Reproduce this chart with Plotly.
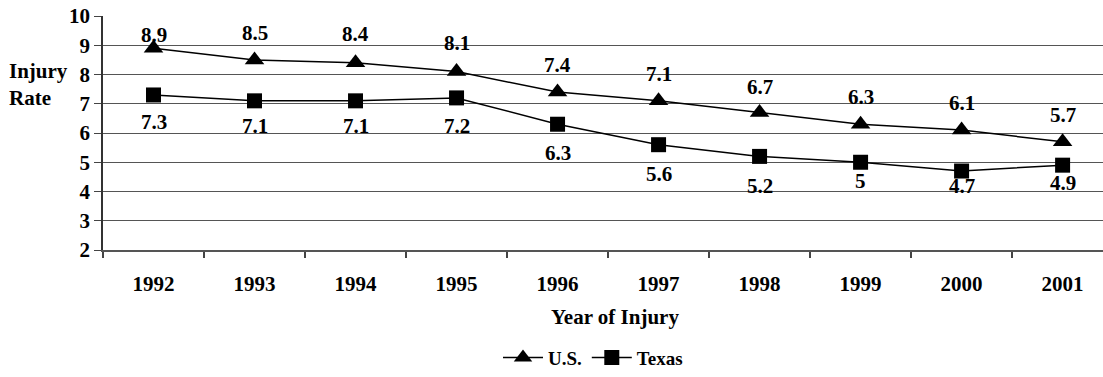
import plotly.graph_objects as go

# Injury rates by year of injury
years = ["1992", "1993", "1994", "1995", "1996", "1997", "1998", "1999", "2000", "2001"]
us_rate = [8.9, 8.5, 8.4, 8.1, 7.4, 7.1, 6.7, 6.3, 6.1, 5.7]
texas_rate = [7.3, 7.1, 7.1, 7.2, 6.3, 5.6, 5.2, 5.0, 4.7, 4.9]

# vertical pixel offsets of the value labels (negative = above the marker)
us_label_shift = [-13, -27, -29, -29, -27, -27, -26, -27, -27, -27]
texas_label_shift = [27, 25, 25, 28, 29, 29, 30, 19, 15, 18]

FONT = "Times New Roman, Liberation Serif, serif"

fig = go.Figure()
fig.add_trace(go.Scatter(
    x=years, y=us_rate, name="U.S.", mode="lines+markers",
    line=dict(color="black", width=1.5),
    marker=dict(symbol="triangle-up", size=17, color="black"),
))
fig.add_trace(go.Scatter(
    x=years, y=texas_rate, name="Texas", mode="lines+markers",
    line=dict(color="black", width=1.5),
    marker=dict(symbol="square", size=15, color="black"),
))

annotations = []
for series, shifts in ((us_rate, us_label_shift), (texas_rate, texas_label_shift)):
    for i, (v, s) in enumerate(zip(series, shifts)):
        # category index keeps the year strings from being read as numbers
        annotations.append(dict(
            x=i, y=v, xref="x", yref="y", text=f"<b>{v:g}</b>", showarrow=False,
            yshift=-s, font=dict(family=FONT, size=21, color="black"),
        ))

# axis titles
annotations.append(dict(
    x=0.512, y=-0.287, xref="paper", yref="paper", text="<b>Year of Injury</b>",
    showarrow=False, xanchor="center", yanchor="middle",
    font=dict(family=FONT, size=21, color="black"),
))
annotations.append(dict(
    x=-0.096, y=0.708, xref="paper", yref="paper", text="<b>Injury<br>Rate</b>",
    showarrow=False, xanchor="left", yanchor="middle", align="left",
    font=dict(family=FONT, size=21, color="black"),
))

fig.update_layout(
    width=1103, height=377,
    margin=dict(l=103, r=0, t=16, b=124),
    paper_bgcolor="white", plot_bgcolor="white",
    showlegend=True,
    legend=dict(
        orientation="h", x=0.49, y=-0.46, xanchor="center", yanchor="middle",
        font=dict(family=FONT, size=19, color="black", weight="bold"),
        itemwidth=40, tracegroupgap=0,
    ),
    annotations=annotations,
    xaxis=dict(
        type="category", range=[-0.5, 9.4], tickson="boundaries",
        ticks="outside", ticklen=6, tickcolor="#444", tickwidth=1.5,
        showline=True, linecolor="#555", linewidth=2,
        showgrid=False, ticklabelstandoff=14,
        tickfont=dict(family=FONT, size=21, color="black", weight="bold"),
    ),
    yaxis=dict(
        range=[2, 10], dtick=1, tick0=2,
        ticks="outside", ticklen=7, tickcolor="#444",
        showline=True, linecolor="#333", linewidth=1.5,
        showgrid=True, gridcolor="#555", gridwidth=1,
        zeroline=False,
        tickfont=dict(family=FONT, size=21, color="black", weight="bold"),
    ),
)

fig.write_html("out.html")
